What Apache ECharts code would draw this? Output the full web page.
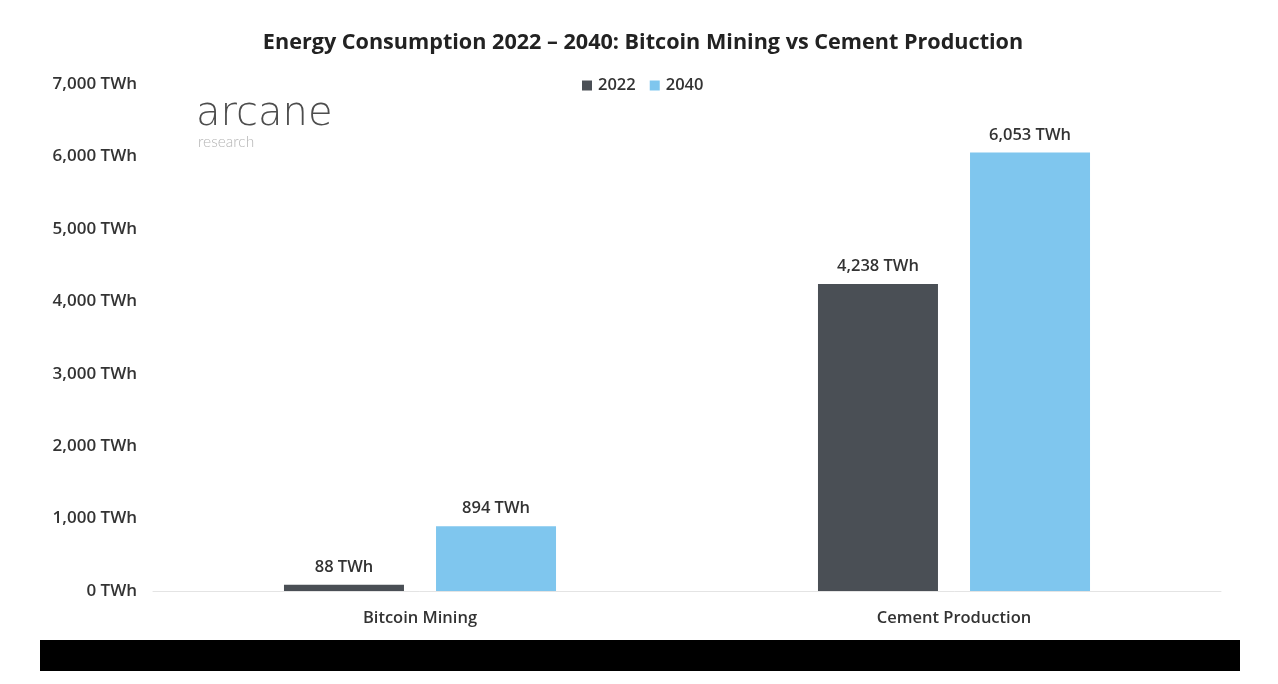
<!DOCTYPE html>
<html>
<head>
<meta charset="utf-8">
<style>
html,body{margin:0;padding:0;background:#fff;}
#main{width:1278px;height:684px;}
</style>
<script src="https://cdn.jsdelivr.net/npm/echarts@6/dist/echarts.min.js"></script>
</head>
<body>
<div id="main"></div>
<script>
var categories = ['Bitcoin Mining', 'Cement Production'];
var values2022 = [88, 4238];
var values2040 = [894, 6053];
var seriesNames = ['2022', '2040'];
var chartTitle = 'Energy Consumption 2022 – 2040: Bitcoin Mining vs Cement Production';

var font = '"Open Sans", sans-serif';
var textColor = '#333333';

function fmtTWh(v){
	return echarts.format.addCommas(v) + ' TWh';
}

function barLabel(){
	return {
		show: true,
		position: 'top',
		distance: 9,
		color: textColor,
		fontFamily: font,
		fontSize: 16.5,
		fontWeight: 600,
		formatter: function(p){ return fmtTWh(p.value); }
	};
}

var myChart = echarts.init(document.getElementById('main'));

var option = {
	animation: false,
	backgroundColor: '#ffffff',
	title: {
		text: chartTitle,
		left: 638,
		top: 27,
		textAlign: 'center',
		textStyle: { color: '#222222', fontFamily: font, fontSize: 21.6, fontWeight: 700 }
	},
	legend: {
		data: seriesNames,
		left: 577,
		top: 72,
		icon: 'rect',
		itemWidth: 10,
		itemHeight: 10,
		itemGap: 14,
		textStyle: { color: textColor, fontFamily: font, fontSize: 16.5, fontWeight: 600, padding: [0, 0, 0, 1] }
	},
	grid: { left: 153, right: 57, top: 84, bottom: 93 },
	xAxis: {
		type: 'category',
		data: categories,
		axisLine: { lineStyle: { color: '#e4e4e4', width: 1 } },
		axisTick: { show: false },
		axisLabel: { color: textColor, fontFamily: font, fontSize: 16.5, fontWeight: 600, margin: 19 }
	},
	yAxis: {
		type: 'value',
		min: 0,
		max: 7000,
		interval: 1000,
		axisLine: { show: false },
		axisTick: { show: false },
		splitLine: { show: false },
		axisLabel: {
			color: textColor,
			fontFamily: font,
			fontSize: 17,
			fontWeight: 600,
			margin: 16,
			formatter: fmtTWh
		}
	},
	series: [
		{
			name: seriesNames[0],
			type: 'bar',
			data: values2022,
			barWidth: 120,
			barGap: '26.7%',
			itemStyle: { color: '#4a4f55' },
			label: barLabel()
		},
		{
			name: seriesNames[1],
			type: 'bar',
			data: values2040,
			barWidth: 120,
			itemStyle: { color: '#7fc6ee' },
			label: barLabel()
		}
	],
	graphic: [
		{
			type: 'text',
			left: 196,
			top: 95,
			style: { text: 'arcane', fill: '#4d4d4d', font: '200 40px "DejaVu Sans", sans-serif' }
		},
		{
			type: 'text',
			left: 198,
			top: 134,
			style: { text: 'research', fill: '#b5b5b5', font: '300 15.5px Lato, sans-serif' }
		},
		{
			type: 'rect',
			shape: { x: 40, y: 640, width: 1200, height: 31 },
			style: { fill: '#000000' }
		}
	]
};

myChart.setOption(option);
</script>
</body>
</html>
